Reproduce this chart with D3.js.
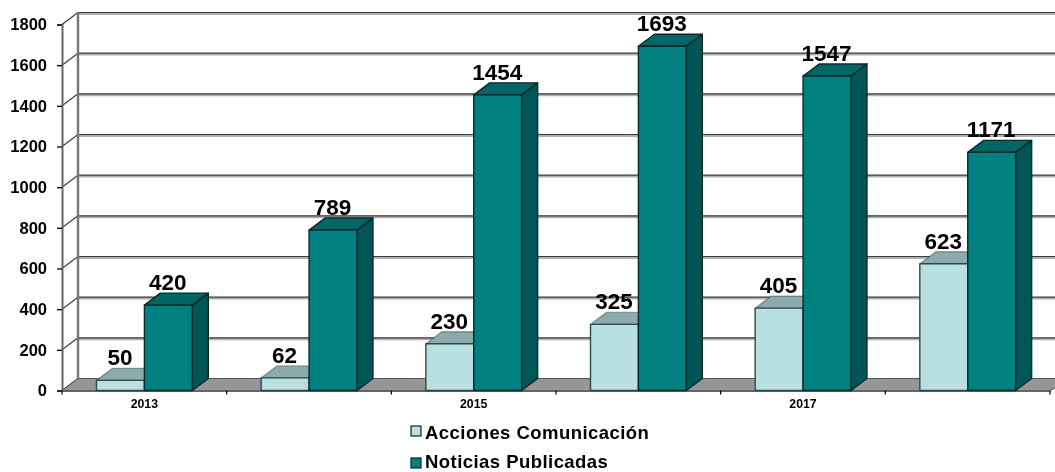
<!DOCTYPE html>
<html><head><meta charset="utf-8">
<script src="https://cdn.jsdelivr.net/npm/d3@7"></script>
<style>html,body{margin:0;padding:0;background:#fff;overflow:hidden}svg{display:block}text{font-family:"Liberation Sans",Arial,sans-serif;font-weight:bold;fill:#000}</style>
</head><body><svg id="c" width="1055" height="472"></svg>
<script>
const years=["2013","2014","2015","2016","2017","2018"];
const labelledYears=["2013","2015","2017"];
const seriesNames=["Acciones Comunicación","Noticias Publicadas"];
const acciones=[50,62,230,325,405,623];
const noticias=[420,789,1454,1693,1547,1171];
const yTicks=[0,200,400,600,800,1000,1200,1400,1600,1800];
const seriesValues=[acciones,noticias];
const front=["#B8E0E2","#008080"],top3d=["#8CABAD","#006666"],side3d=["#6F9A9C","#005555"];
const dx=16,dy=-12,W=1055;
const svg=d3.select("#c");
const defs=svg.append("defs");
defs.append("filter").attr("id","soft").attr("x","-2%").attr("y","-2%").attr("width","104%").attr("height","104%")
  .append("feGaussianBlur").attr("stdDeviation",0.5);
const x0=d3.scaleBand().domain(years).range([62,1050]);
const x1=d3.scaleBand().domain(seriesNames).range([34.5,130.3]);
const y=d3.scaleLinear().domain([0,1800]).range([390.5,24.5]);
const g=svg.append("g").attr("filter","url(#soft)");
const ln=(sel,c,w)=>sel.attr("stroke",c).attr("stroke-width",w).attr("fill","none");
yTicks.forEach(t=>{
  const yy=y(t);
  ln(g.append("line").attr("x1",78).attr("x2",W+5).attr("y1",yy+dy+1.2).attr("y2",yy+dy+1.2),"#b0b0b0",2.4);
  ln(g.append("line").attr("x1",78).attr("x2",W+5).attr("y1",yy+dy).attr("y2",yy+dy),"#3a3a3a",1.2);
  ln(g.append("line").attr("x1",62).attr("x2",62+dx).attr("y1",yy).attr("y2",yy+dy),"#444",1.3);
});
ln(g.append("line").attr("x1",78).attr("x2",78).attr("y1",y(0)+dy).attr("y2",y(1800)+dy),"#777",2.4);
g.append("path").attr("d",d3.line()([[62,y(0)],[78,y(0)+dy],[W+20,y(0)+dy],[1050,y(0)]])+"Z").attr("fill","#969696").attr("stroke","#555").attr("stroke-width",1);
const ax=g.append("g").attr("transform","translate(62,0)").call(d3.axisLeft(y).tickValues(yTicks).tickSize(5).tickPadding(10).tickFormat(d3.format("d")));
ax.selectAll("text").style("font-size","16.5px");
ax.select(".domain").attr("stroke","#666").attr("stroke-width",2);
ax.selectAll(".tick line").attr("stroke","#111").attr("stroke-width",1.4);
const bx=g.append("g").attr("transform",`translate(0,${y(0)})`).call(d3.axisBottom(x0).tickValues(labelledYears).tickSize(0).tickPadding(9));
bx.selectAll("text").style("font-size","12.3px");
bx.select(".domain").attr("stroke","#666").attr("stroke-width",2);
const edges=years.map(d=>x0(d)).concat([x0.range()[1]]);
g.append("g").selectAll("line").data(edges).join("line").attr("x1",d=>d).attr("x2",d=>d).attr("y1",y(0)).attr("y2",y(0)+4).attr("stroke","#111").attr("stroke-width",1.3);
const barsG=g.append("g");
years.forEach((yr,i)=>{
  seriesNames.forEach((s,k)=>{
    const v=seriesValues[k][i],xa=x0(yr)+x1(s),w=x1.bandwidth(),xb=xa+w,yt=y(v),yb=y(0);
    const b=barsG.append("g").attr("stroke",k?"#0a2a2a":"#2f4a4a").attr("stroke-width",1.4).attr("stroke-linejoin","round");
    b.append("path").attr("d",d3.line()([[xa,yt],[xa+dx,yt+dy],[xb+dx,yt+dy],[xb,yt]])+"Z").attr("fill",top3d[k]).attr("stroke-opacity",k?1:.45);
    b.append("path").attr("d",d3.line()([[xb,yt],[xb+dx,yt+dy],[xb+dx,yb+dy],[xb,yb]])+"Z").attr("fill",side3d[k]);
    b.append("rect").attr("x",xa).attr("y",yt).attr("width",w).attr("height",yb-yt).attr("fill",front[k]);
  });
});
years.forEach((yr,i)=>{
  seriesNames.forEach((s,k)=>{
    const v=seriesValues[k][i];
    g.append("text").attr("x",x0(yr)+x1(s)+x1.bandwidth()/2-0.5).attr("y",y(v)-15).attr("text-anchor","middle").style("font-size","22.5px").text(v);
  });
});
seriesNames.forEach((s,k)=>{
  g.append("rect").attr("x",411).attr("y",426+k*32).attr("width",10).attr("height",10).attr("fill",front[k]).attr("stroke","#123").attr("stroke-width",1.2);
  g.append("text").attr("x",425).attr("y",439+k*29).style("font-size","18.5px").style("letter-spacing","0.45px").text(s);
});
</script></body></html>
